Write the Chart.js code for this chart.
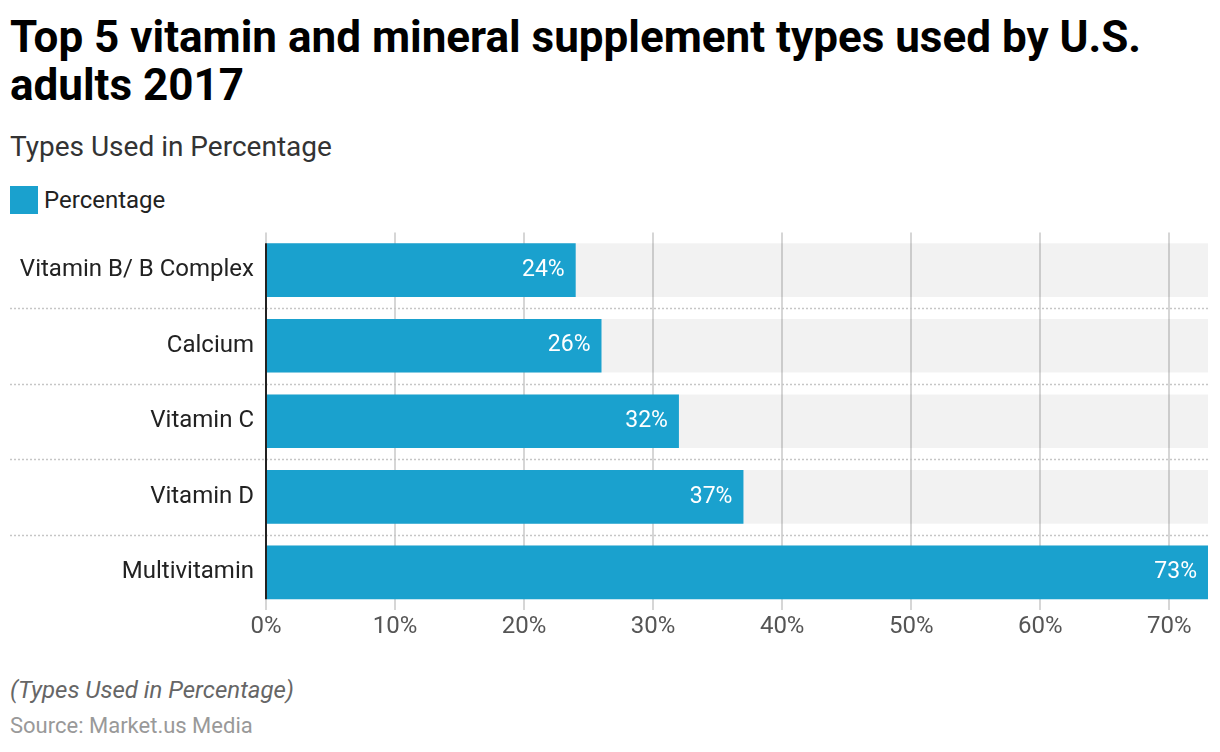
<!DOCTYPE html>
<html>
<head>
<meta charset="utf-8">
<script src="https://cdn.jsdelivr.net/npm/chart.js@4"></script>
<style>
  body { margin: 0; background: #fff; font-family: Roboto, sans-serif; }
  #wrap { position: relative; width: 1220px; height: 752px; }
  h1 { position: absolute; left: 10px; top: 13px; margin: 0; font-size: 44px; line-height: 48px; font-weight: 700; color: #000; }
  .sub { position: absolute; left: 10px; top: 130px; font-size: 28px; color: #333; }
  .legend { position: absolute; left: 10px; top: 186px; font-size: 24px; color: #222; line-height: 28px; }
  .legend span { display: inline-block; width: 28px; height: 28px; background: #1aa1ce; vertical-align: top; margin-right: 6px; }
  .note { position: absolute; left: 10px; top: 676px; font-size: 24px; font-style: italic; color: #666; }
  .src { position: absolute; left: 10px; top: 713px; font-size: 22px; color: #999; }
  canvas { position: absolute; left: 0; top: 206px; }
</style>
</head>
<body>
<div id="wrap">
  <h1>Top 5 vitamin and mineral supplement types used by U.S.<br>adults 2017</h1>
  <div class="sub">Types Used in Percentage</div>
  <div class="legend"><span></span>Percentage</div>
  <canvas id="chart" width="1220" height="437"></canvas>
  <div class="note">(Types Used in Percentage)</div>
  <div class="src">Source: Market.us Media</div>
</div>
<script>
const categories = ['Vitamin B/ B Complex', 'Calcium', 'Vitamin C', 'Vitamin D', 'Multivitamin'];
const percentages = [24, 26, 32, 37, 73];
const axisMax = 73;
const trackValues = [73, 73, 73, 73, 73];

// dotted separators, left axis line and value labels
const extras = {
    id: 'extras',
    beforeDatasetsDraw(chart) {
        const ctx = chart.ctx;
        const y = chart.scales.y;
        const area = chart.chartArea;
        const step = y.getPixelForValue(1) - y.getPixelForValue(0);
        ctx.save();
        ctx.strokeStyle = '#c6c6c6';
        ctx.lineWidth = 1.5;
        ctx.setLineDash([2, 2]);
        for (let i = 0; i < categories.length - 1; i++) {
            const py = Math.round(y.getPixelForValue(i) + step / 2) + 0.5;
            ctx.beginPath();
            ctx.moveTo(10, py);
            ctx.lineTo(area.right, py);
            ctx.stroke();
        }
        ctx.restore();
    },
    afterDatasetsDraw(chart) {
        const ctx = chart.ctx;
        const bars = chart.getDatasetMeta(1).data;
        ctx.save();
        ctx.strokeStyle = '#222';
        ctx.lineWidth = 2;
        const first = bars[0], last = bars[bars.length - 1];
        ctx.beginPath();
        ctx.moveTo(chart.chartArea.left, first.y - first.height / 2);
        ctx.lineTo(chart.chartArea.left, last.y + last.height / 2);
        ctx.stroke();
        ctx.fillStyle = '#fff';
        ctx.font = '23px Roboto';
        ctx.textAlign = 'right';
        ctx.textBaseline = 'middle';
        bars.forEach((b, i) => {
            ctx.fillText(percentages[i] + '%', b.x - 11, b.y);
        });
        ctx.restore();
    }
};

new Chart(document.getElementById('chart'), {
    type: 'bar',
    data: {
        labels: categories,
        datasets: [{
            label: 'track',
            data: trackValues,
            backgroundColor: 'rgba(0,0,0,0.05)',
            grouped: false,
            order: 2,
            barPercentage: 0.71,
            categoryPercentage: 1
        }, {
            label: 'Percentage',
            data: percentages,
            backgroundColor: '#1aa1ce',
            grouped: false,
            order: 1,
            barPercentage: 0.71,
            categoryPercentage: 1
        }]
    },
    options: {
        indexAxis: 'y',
        responsive: false,
        animation: false,
        layout: {padding: {top: 0, right: 12, left: 0, bottom: 0}},
        plugins: {
            legend: {display: false},
            tooltip: {enabled: false}
        },
        scales: {
            x: {
                min: 0,
                max: axisMax,
                ticks: {
                    stepSize: 10,
                    includeBounds: false,
                    padding: 2,
                    color: '#555',
                    font: {family: 'Roboto', size: 24},
                    callback: v => v + '%'
                },
                grid: {color: '#d6d6d6', lineWidth: 2, drawTicks: false},
                border: {display: false}
            },
            y: {
                afterFit: s => { s.width = 266; },
                ticks: {
                    padding: 12,
                    color: '#222',
                    font: {family: 'Roboto', size: 24}
                },
                grid: {display: false, drawTicks: false},
                border: {display: false}
            }
        }
    },
    plugins: [extras]
});
</script>
</body>
</html>
